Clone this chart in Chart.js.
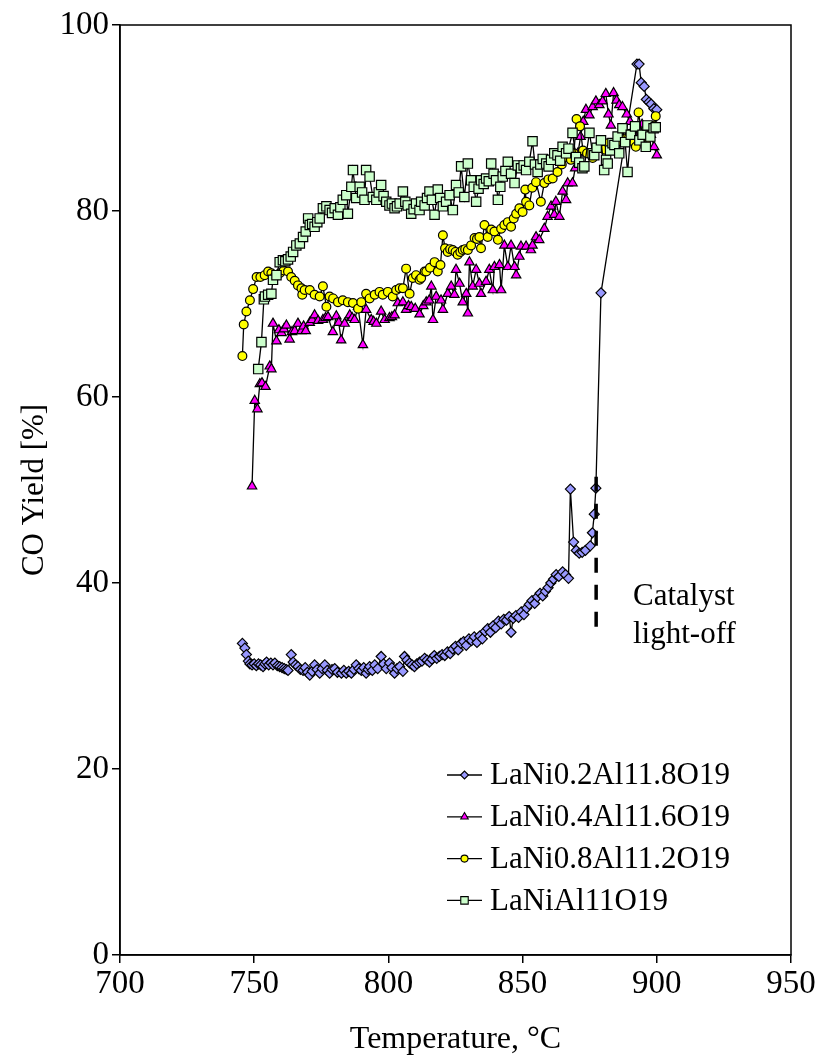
<!DOCTYPE html>
<html>
<head>
<meta charset="utf-8">
<script src="https://cdn.jsdelivr.net/npm/chart.js@4.4.1/dist/chart.umd.min.js"></script>
<style>
  html, body { margin: 0; padding: 0; background: #fff; }
  canvas { display: block; }
</style>
</head>
<body>
<canvas id="chart" width="819" height="1062"></canvas>
<script>
// LaNi0.2Al11.8O19 (diamonds)
const tempNi02 = [745.6, 746.5, 747.1, 747.8, 748.4, 749.2, 750.0, 750.8, 751.6, 752.4, 753.3, 754.0, 754.6, 755.4, 756.2, 757.0, 757.7, 758.6, 759.5, 760.4,
  761.2, 762.0, 762.6, 763.8, 764.5, 765.4, 766.3, 767.2, 768.2, 769.0, 769.8, 770.7, 771.6, 772.5, 773.4, 774.4, 775.3, 776.3, 777.2, 778.1,
  779.0, 780.0, 781.0, 782.5, 783.4, 784.3, 785.2, 786.2, 787.1, 788.0, 789.0, 789.9, 790.8, 791.7, 792.4, 793.0, 794.0, 794.9, 796.0, 797.3,
  798.2, 799.2, 800.4, 801.3, 802.3, 803.2, 804.2, 805.4, 806.0, 806.9, 807.9, 808.8, 809.7, 810.6, 811.6, 812.5, 813.5, 814.4, 815.3, 816.2,
  817.1, 818.0, 819.0, 820.0, 821.0, 822.0, 823.0, 824.0, 825.0, 826.0, 827.0, 828.0, 829.0, 830.0, 831.0, 832.0, 833.0, 834.0, 835.0, 836.0,
  837.0, 838.0, 839.0, 840.0, 841.0, 842.0, 843.0, 844.0, 845.0, 845.7, 846.5, 847.5, 848.5, 849.5, 850.5, 851.5, 852.5, 853.5, 854.5, 855.5,
  856.5, 857.5, 858.5, 859.5, 860.5, 861.5, 862.5, 863.5, 864.9, 866.0, 867.1, 867.8, 869.0, 870.0, 871.1, 872.2, 873.4, 875.2, 876.0, 876.7,
  877.3, 879.2, 892.6, 893.4, 894.2, 895.3, 896.1, 897.1, 897.9, 898.9, 900.0];
const yieldNi02 = [33.5, 33.0, 32.3, 31.6, 31.3, 31.2, 31.3, 31.1, 31.3, 31.2, 31.0, 31.3, 31.5, 31.2, 31.4, 31.2, 31.4, 31.1, 31.0, 30.9,
  30.8, 30.7, 30.6, 32.3, 31.5, 31.2, 31.0, 30.7, 30.6, 30.9, 30.4, 30.1, 30.5, 31.2, 30.7, 30.3, 30.8, 31.2, 30.6, 30.3,
  30.7, 30.8, 30.4, 30.3, 30.6, 30.3, 30.5, 30.3, 30.7, 31.2, 30.8, 30.6, 30.9, 30.3, 30.7, 31.0, 30.6, 31.2, 30.8, 32.1,
  31.3, 30.8, 31.4, 30.9, 30.3, 30.8, 31.0, 30.5, 32.1, 31.7, 31.4, 31.2, 31.0, 31.3, 31.5, 31.6, 31.9, 31.7, 31.5, 31.8,
  32.2, 31.9, 32.1, 32.3, 32.2, 32.6, 32.4, 32.9, 33.2, 32.8, 33.5, 33.7, 33.3, 34.0, 33.8, 34.2, 33.6, 34.3, 34.0, 34.8,
  35.1, 34.7, 35.4, 35.2, 35.9, 35.6, 36.1, 36.0, 36.4, 34.7, 36.2, 36.5, 36.3, 36.9, 36.6, 37.3, 37.7, 38.1, 37.8, 38.5,
  38.9, 38.6, 39.1, 39.5, 40.0, 40.4, 40.9, 40.7, 41.2, 40.9, 40.5, 50.1, 44.4, 43.5, 43.2, 43.3, 43.5, 44.0, 45.4, 47.4,
  50.2, 71.2, 95.8, 95.8, 93.8, 93.4, 92.0, 91.7, 91.5, 91.0, 90.9];

// LaNi0.4Al11.6O19 (triangles)
const tempNi04 = [749.2, 750.2, 751.2, 752.1, 752.9, 754.2, 755.8, 756.4, 757.0, 758.3, 759.2, 760.2, 761.1, 762.0, 763.2, 764.1, 765.1, 766.3, 767.6, 768.4,
  769.2, 770.7, 771.6, 772.5, 773.8, 775.6, 776.6, 777.5, 779.3, 780.6, 781.5, 782.4, 783.7, 785.6, 786.5, 787.4, 788.7, 790.5, 791.7, 793.6,
  794.5, 795.5, 797.3, 798.6, 800.4, 801.3, 802.3, 803.5, 805.4, 806.6, 807.5, 808.5, 810.0, 811.6, 813.0, 814.1, 815.2, 816.0, 816.6, 817.8,
  819.6, 820.3, 822.1, 823.4, 824.6, 825.2, 826.5, 827.7, 829.0, 829.6, 830.2, 831.4, 832.7, 833.9, 834.5, 836.4, 837.6, 838.9, 839.5, 841.4,
  842.0, 843.2, 844.5, 845.7, 847.0, 847.6, 848.8, 849.4, 851.3, 853.1, 853.7, 855.0, 856.2, 858.1, 859.3, 860.6, 861.8, 862.4, 863.7, 864.9,
  866.2, 866.8, 868.6, 869.6, 870.6, 871.6, 872.6, 873.6, 874.9, 876.1, 877.3, 878.6, 879.8, 881.0, 882.0, 882.9, 883.9, 885.0, 886.0, 887.2,
  888.8, 890.0, 891.5, 893.0, 894.5, 896.0, 897.8, 899.0, 900.0];
const yieldNi04 = [50.4, 59.6, 58.7, 61.4, 61.5, 61.1, 63.3, 63.0, 67.9, 66.0, 67.2, 66.9, 67.3, 67.7, 66.2, 67.0, 67.1, 67.9, 67.1, 67.6,
  67.1, 68.0, 68.3, 68.8, 68.2, 68.3, 68.5, 68.6, 67.0, 68.7, 68.0, 66.1, 67.9, 68.8, 68.5, 68.3, 69.7, 65.6, 69.4, 68.3,
  68.1, 67.9, 69.2, 68.3, 68.5, 68.6, 68.8, 70.1, 70.2, 69.4, 69.8, 69.7, 69.5, 68.9, 69.8, 70.2, 70.4, 71.9, 68.3, 70.8,
  70.4, 69.4, 71.1, 71.9, 71.0, 73.7, 72.2, 70.2, 71.1, 69.0, 74.5, 71.9, 73.7, 72.2, 71.1, 72.4, 73.7, 71.5, 74.0, 74.2,
  71.5, 76.3, 74.0, 76.3, 74.0, 73.1, 75.1, 76.2, 76.2, 75.8, 76.3, 77.2, 76.9, 78.1, 79.4, 80.5, 79.6, 81.0, 79.4, 82.1,
  81.2, 83.0, 83.0, 84.6, 86.2, 88.0, 89.6, 90.9, 90.3, 91.2, 91.8, 91.4, 91.8, 92.6, 90.4, 89.2, 92.7, 91.9, 91.4, 91.2,
  90.4, 89.6, 88.4, 88.9, 89.3, 88.6, 88.2, 86.9, 86.0];

// LaNi0.8Al11.2O19 (circles)
const tempNi08 = [745.6, 746.1, 747.1, 748.4, 749.6, 750.9, 752.3, 753.9, 755.2, 756.4, 757.8, 759.5, 761.0, 762.6, 763.8, 765.1, 766.3, 767.6, 767.9, 768.8,
  770.7, 772.5, 774.4, 775.6, 776.9, 778.1, 779.4, 781.2, 783.0, 784.9, 786.8, 788.7, 789.9, 791.7, 793.0, 794.9, 796.7, 797.9, 799.8, 801.6,
  802.9, 804.2, 805.4, 806.6, 807.9, 809.1, 810.3, 811.6, 812.2, 813.5, 814.1, 815.5, 817.2, 818.4, 819.4, 820.3, 821.1, 822.1, 823.0, 824.0,
  825.0, 825.8, 826.8, 827.7, 828.6, 829.6, 830.8, 832.1, 833.0, 833.9, 834.5, 835.8, 837.0, 838.3, 839.5, 840.8, 842.0, 843.2, 844.5, 845.7,
  846.7, 847.6, 848.8, 850.0, 851.0, 851.3, 852.5, 853.6, 855.0, 856.8, 858.1, 859.6, 861.2, 863.0, 864.6, 866.2, 868.0, 869.1, 870.1, 871.4,
  872.5, 874.0, 876.1, 877.5, 879.0, 880.5, 882.0, 884.0, 886.0, 888.0, 890.0, 891.0, 892.2, 893.2, 894.5, 896.0, 897.5, 899.0, 899.6];
const yieldNi08 = [64.4, 67.8, 69.2, 70.4, 71.6, 72.9, 72.9, 73.1, 73.5, 73.3, 73.0, 73.3, 73.6, 73.5, 72.9, 72.5, 72.0, 71.7, 71.0, 71.5,
  71.5, 71.0, 70.8, 71.9, 69.7, 70.8, 70.6, 70.2, 70.4, 70.2, 70.1, 69.5, 70.2, 71.1, 70.6, 71.0, 71.3, 71.0, 71.3, 70.8,
  71.5, 71.7, 71.7, 73.8, 71.1, 72.8, 73.1, 72.6, 72.8, 73.5, 73.5, 73.9, 74.5, 73.5, 74.2, 77.4, 76.0, 75.6, 75.9, 75.8,
  75.6, 75.3, 75.6, 75.8, 75.9, 75.8, 76.3, 77.1, 77.0, 77.2, 76.0, 78.5, 77.2, 78.0, 77.8, 76.9, 78.1, 78.5, 78.8, 78.3,
  79.2, 79.7, 80.3, 79.9, 82.3, 81.0, 80.6, 82.5, 83.1, 81.0, 83.0, 83.4, 83.5, 84.2, 85.0, 85.8, 85.5, 86.2, 89.9, 89.1,
  86.5, 86.2, 85.7, 86.8, 87.2, 86.6, 87.3, 86.9, 87.5, 87.8, 88.3, 87.5, 86.9, 90.6, 88.0, 87.4, 88.5, 89.2, 90.2];

// LaNiAl11O19 (squares)
const tempNi10 = [751.5, 752.7, 753.6, 754.0, 755.2, 756.4, 757.0, 758.3, 759.5, 760.7, 761.6, 762.6, 763.6, 764.5, 765.7, 767.0, 768.2, 769.2, 770.1, 770.7,
  771.6, 772.5, 773.5, 774.4, 775.6, 776.9, 778.1, 779.0, 780.0, 781.2, 782.1, 783.0, 784.3, 784.9, 786.2, 786.8, 788.0, 789.3, 790.2, 791.1,
  791.7, 793.0, 794.2, 795.5, 796.4, 797.3, 798.2, 799.2, 800.4, 801.3, 802.3, 803.2, 804.2, 805.4, 806.3, 807.2, 808.5, 809.4, 810.3, 811.6,
  812.2, 813.5, 814.4, 815.3, 816.2, 817.2, 818.4, 819.3, 820.3, 821.5, 822.8, 824.0, 825.2, 826.2, 827.1, 828.3, 829.6, 830.8, 831.8, 832.7,
  833.6, 834.5, 835.5, 836.4, 837.4, 838.3, 839.2, 840.1, 840.8, 841.7, 842.6, 843.6, 844.5, 845.7, 847.0, 848.2, 849.4, 850.4, 851.3, 852.5,
  853.7, 854.6, 855.6, 856.6, 857.5, 858.8, 859.7, 860.6, 861.8, 863.0, 864.0, 864.9, 866.2, 867.1, 868.6, 869.9, 871.1, 872.3, 873.0, 874.9,
  876.1, 876.7, 877.6, 879.2, 880.4, 881.1, 881.7, 882.6, 883.5, 884.2, 885.4, 886.0, 887.2, 888.2, 889.1, 890.3, 891.9, 893.5, 894.7, 895.9,
  896.5, 897.6, 898.8, 899.6];
const yieldNi10 = [63.0, 65.9, 70.5, 70.8, 71.0, 71.1, 72.6, 73.1, 74.5, 74.7, 74.6, 74.8, 75.1, 75.6, 76.3, 76.5, 77.2, 77.8, 79.2, 78.5,
  78.6, 78.3, 78.8, 79.2, 80.3, 80.5, 80.1, 79.8, 80.3, 79.6, 80.4, 81.2, 81.7, 79.7, 82.6, 84.4, 81.4, 82.6, 82.0, 81.2,
  84.4, 83.7, 81.5, 81.2, 82.0, 82.8, 81.6, 81.0, 80.6, 80.8, 80.3, 80.5, 80.8, 82.1, 81.0, 80.6, 79.7, 80.2, 80.8, 80.1,
  81.0, 80.6, 81.4, 82.1, 81.2, 79.6, 82.3, 81.4, 80.5, 81.0, 81.7, 80.1, 82.8, 82.0, 84.8, 81.5, 85.1, 83.3, 82.6, 81.0,
  82.4, 83.3, 82.9, 83.5, 83.2, 85.1, 84.0, 83.3, 81.2, 82.6, 83.7, 84.3, 85.3, 84.0, 83.0, 84.9, 84.6, 84.9, 84.4, 85.3,
  87.5, 85.0, 84.2, 85.0, 85.6, 85.1, 84.8, 85.5, 86.2, 86.0, 85.4, 86.9, 86.2, 86.7, 88.4, 85.8, 85.2, 84.6, 84.8, 88.4,
  86.2, 86.0, 86.8, 87.6, 84.4, 85.5, 85.1, 86.5, 87.3, 87.1, 88.0, 86.2, 88.9, 87.4, 84.2, 88.2, 89.1, 87.6, 88.2, 86.9,
  89.2, 88.0, 88.9, 89.0];

const seriesNames = ['LaNi0.2Al11.8O19', 'LaNi0.4Al11.6O19', 'LaNi0.8Al11.2O19', 'LaNiAl11O19'];
const xTicks = [700, 750, 800, 850, 900, 950];
const yTicks = [0, 20, 40, 60, 80, 100];
const lightOffTemp = 877.4;
const lightOffRange = [35.3, 51.6];
const noteLines = ['Catalyst', 'light-off'];

const FONT = "'Liberation Serif', 'Times New Roman', serif";

const toPoints = (xs, ys) => xs.map((x, i) => ({x: x, y: ys[i]}));

function makeSet(label, xs, ys, style, fill, radius, order) {
  return {
    label: label,
    data: toPoints(xs, ys),
    showLine: true,
    borderColor: '#000',
    borderWidth: 1.3,
    tension: 0,
    pointStyle: style,
    pointRadius: radius,
    pointBackgroundColor: fill,
    pointBorderColor: '#000',
    pointBorderWidth: 1.2,
    order: order
  };
}

const datasets = [
  makeSet(seriesNames[0], tempNi02, yieldNi02, 'rectRot', '#9999FF', 5, 4),
  makeSet(seriesNames[1], tempNi04, yieldNi04, 'triangle', '#FF00FF', 5.4, 3),
  makeSet(seriesNames[2], tempNi08, yieldNi08, 'circle', '#FFFF00', 4.4, 2),
  makeSet(seriesNames[3], tempNi10, yieldNi10, 'rect', '#CCFFCC', 6.6, 1)
];

// frame, light-off marker, note and legend
const extras = {
  id: 'extras',
  afterDatasetsDraw(chart) {
    const ctx = chart.ctx;
    const xs = chart.scales.x, ys = chart.scales.y;
    const area = chart.chartArea;

    ctx.save();
    ctx.strokeStyle = '#000';
    ctx.lineWidth = 1.5;
    ctx.strokeRect(area.left, area.top, area.right - area.left, area.bottom - area.top);

    const lx = xs.getPixelForValue(lightOffTemp);
    ctx.lineWidth = 3.5;
    ctx.setLineDash([15, 12]);
    ctx.beginPath();
    ctx.moveTo(lx, ys.getPixelForValue(lightOffRange[0]));
    ctx.lineTo(lx, ys.getPixelForValue(lightOffRange[1]));
    ctx.stroke();
    ctx.setLineDash([]);

    ctx.fillStyle = '#000';
    ctx.font = '31px ' + FONT;
    ctx.textAlign = 'left';
    ctx.textBaseline = 'alphabetic';
    ctx.fillText(noteLines[0], 633, 605);
    ctx.fillText(noteLines[1], 633, 643);

    // legend
    const legX = 447, legY = 775, gap = 41.8;
    chart.data.datasets.forEach((ds, i) => {
      const y = legY + i * gap;
      ctx.strokeStyle = '#000';
      ctx.lineWidth = 1.3;
      ctx.beginPath();
      ctx.moveTo(legX, y);
      ctx.lineTo(legX + 35, y);
      ctx.stroke();
      ctx.fillStyle = ds.pointBackgroundColor;
      ctx.strokeStyle = '#000';
      ctx.lineWidth = 1.1;
      Chart.helpers.drawPoint(ctx, {pointStyle: ds.pointStyle, radius: ds.pointRadius * 0.8, borderWidth: 1.1, rotation: 0}, legX + 17.5, y);
      ctx.fillStyle = '#000';
      ctx.textBaseline = 'middle';
      ctx.fillText(ds.label, legX + 43, y + 1);
    });
    ctx.restore();
  }
};

const ctx = document.getElementById('chart').getContext('2d');
const chart = new Chart(ctx, {
  type: 'scatter',
  data: { datasets: datasets },
  options: {
    responsive: false,
    animation: false,
    devicePixelRatio: 1,
    layout: { padding: { top: 25, right: 28, bottom: 3, left: 16 } },
    plugins: { legend: { display: false }, tooltip: { enabled: false } },
    scales: {
      x: {
        type: 'linear',
        min: xTicks[0],
        max: xTicks[xTicks.length - 1],
        afterBuildTicks: s => { s.ticks = xTicks.map(v => ({value: v})); },
        afterFit: s => { s.height = 104; },
        grid: { drawOnChartArea: false, drawTicks: true, tickLength: 8, color: '#000', lineWidth: 1.5 },
        border: { display: true, color: '#000', width: 1.5 },
        ticks: { color: '#000', padding: 2, maxRotation: 0, font: { family: FONT, size: 33 } },
        title: { display: true, text: 'Temperature, °C', color: '#000', padding: 0, font: { family: FONT, size: 32 } }
      },
      y: {
        min: yTicks[0],
        max: yTicks[yTicks.length - 1],
        afterBuildTicks: s => { s.ticks = yTicks.map(v => ({value: v})); },
        afterFit: s => { s.width = 104; },
        grid: { drawOnChartArea: false, drawTicks: true, tickLength: 8, color: '#000', lineWidth: 1.5 },
        border: { display: true, color: '#000', width: 1.5 },
        ticks: { color: '#000', padding: 3, font: { family: FONT, size: 33 } },
        title: { display: true, text: 'CO Yield [%]', color: '#000', padding: 0, font: { family: FONT, size: 31 } }
      }
    }
  },
  plugins: [extras]
});
</script>
</body>
</html>
